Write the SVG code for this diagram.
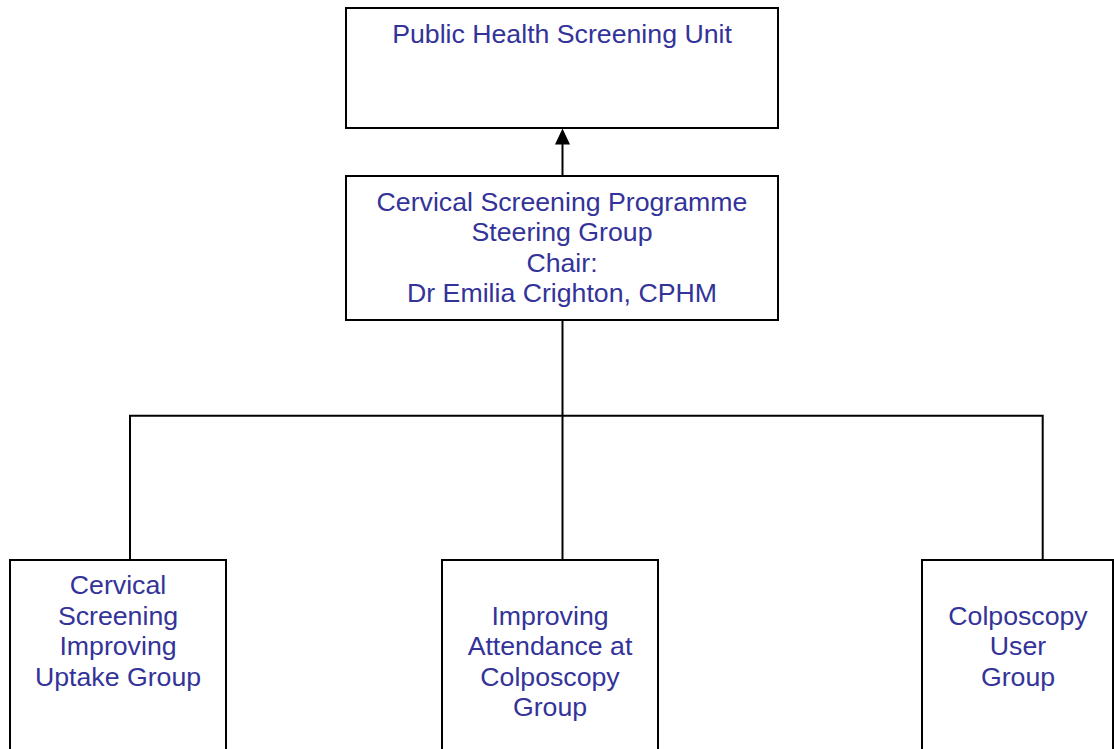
<svg xmlns="http://www.w3.org/2000/svg" width="1114" height="749" viewBox="0 0 1114 749">
<style>
.box{fill:#fff;stroke:#000;stroke-width:2}
.lbl{font-family:"Liberation Sans",Arial,sans-serif;font-size:26.7px;fill:#333399;text-anchor:middle}
.con{fill:none;stroke:#000;stroke-width:2}
.head{fill:#000}
</style>
<rect width="1114" height="749" fill="#fff"/>
<g id="connectors">
<line class="con" x1="562.5" y1="176" x2="562.5" y2="142"/>
<path class="head" d="M555,144.5 L562.5,128.5 L570,144.5 Z"/>
<polyline class="con" points="562.5,320 562.5,560"/>
<polyline class="con" points="130,560 130,415.7 1042.7,415.7 1042.7,560"/>
</g>
<g id="node-phsu">
<rect class="box" x="346" y="8" width="432" height="120"/>
<text class="lbl" x="562" y="43.3">Public Health Screening Unit</text>
</g>
<g id="node-steering">
<rect class="box" x="346" y="176" width="432" height="144"/>
<text class="lbl" x="562" y="210.7">Cervical Screening Programme</text>
<text class="lbl" x="562" y="241">Steering Group</text>
<text class="lbl" x="562" y="271.5">Chair:</text>
<text class="lbl" x="562" y="301.8">Dr Emilia Crighton, CPHM</text>
</g>
<g id="node-uptake">
<rect class="box" x="10" y="560" width="216" height="200"/>
<text class="lbl" x="118" y="594.3">Cervical</text>
<text class="lbl" x="118" y="624.8">Screening</text>
<text class="lbl" x="118" y="655.3">Improving</text>
<text class="lbl" x="118" y="685.8">Uptake Group</text>
</g>
<g id="node-attendance">
<rect class="box" x="442" y="560" width="216" height="200"/>
<text class="lbl" x="550" y="624.8">Improving</text>
<text class="lbl" x="550" y="655.3">Attendance at</text>
<text class="lbl" x="550" y="685.8">Colposcopy</text>
<text class="lbl" x="550" y="716.3">Group</text>
</g>
<g id="node-colposcopy">
<rect class="box" x="922" y="560" width="191" height="200"/>
<text class="lbl" x="1018" y="624.8">Colposcopy</text>
<text class="lbl" x="1018" y="655.3">User</text>
<text class="lbl" x="1018" y="685.8">Group</text>
</g>
</svg>
